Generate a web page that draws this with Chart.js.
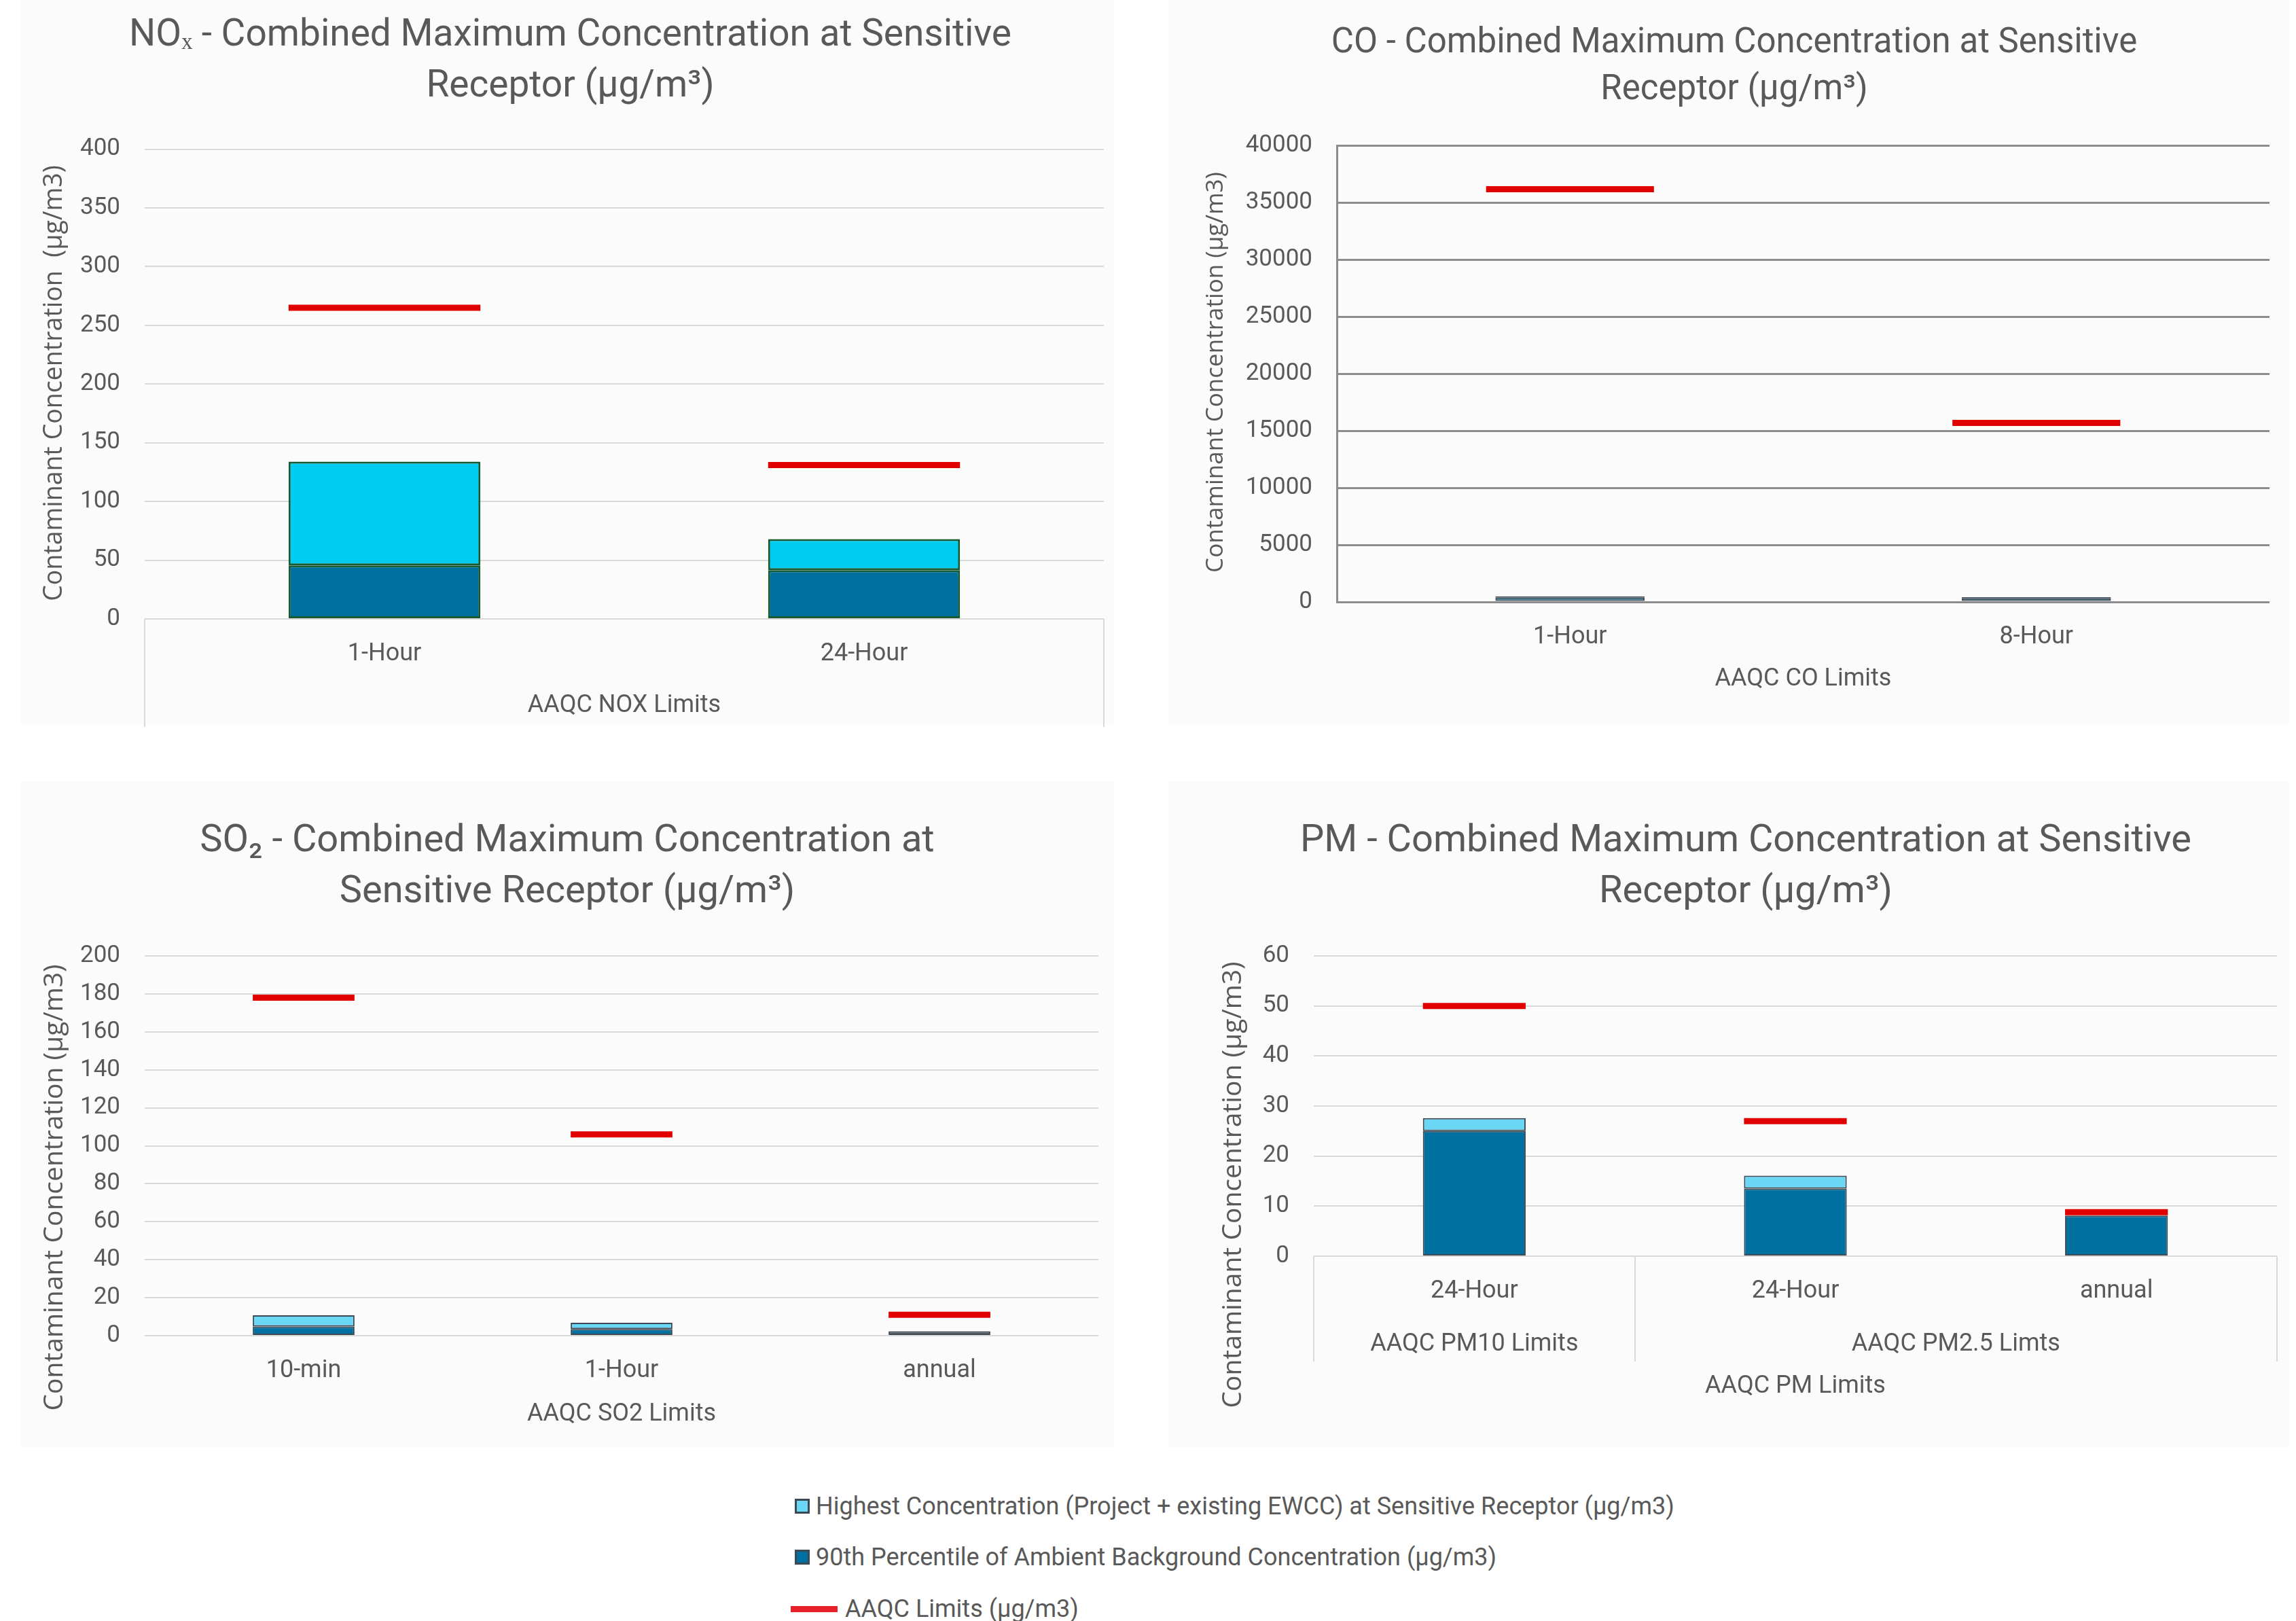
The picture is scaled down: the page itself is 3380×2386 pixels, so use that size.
<!DOCTYPE html>
<html>
<head>
<meta charset="utf-8">
<script src="https://cdn.jsdelivr.net/npm/chart.js@4.4.1/dist/chart.umd.min.js"></script>
<style>
  html, body { margin: 0; padding: 0; background: #ffffff; }
  body { width: 3380px; height: 2386px; position: relative; overflow: hidden; font-family: Roboto, sans-serif; }
  .panel { position: absolute; background: #fbfbfb; }
  canvas { position: absolute; }
  .leg { position: absolute; height: 40px; line-height: 40px; font-size: 36px; color: #595959; white-space: nowrap; }
  .sw { position: absolute; width: 16px; height: 16px; border: 3px solid #3d4a55; }
  .ln { position: absolute; width: 69px; height: 9px; background: #e8202a; }
</style>
</head>
<body>
<div class="panel" style="left:30px;top:0;width:1610px;height:1065px"></div>
<div class="panel" style="left:1720px;top:0;width:1650px;height:1065px"></div>
<div class="panel" style="left:30px;top:1150px;width:1610px;height:980px"></div>
<div class="panel" style="left:1720px;top:1150px;width:1650px;height:980px"></div>
<canvas id="noxChart" width="1660" height="1070" style="left:0;top:0"></canvas>
<canvas id="coChart" width="1690" height="1070" style="left:1690px;top:0"></canvas>
<canvas id="so2Chart" width="1660" height="980" style="left:0;top:1150px"></canvas>
<canvas id="pmChart" width="1690" height="980" style="left:1690px;top:1150px"></canvas>
<div id="legend"></div>
<script>
// series names (shared legend)
const seriesNames = [
  'Highest Concentration (Project + existing EWCC) at Sensitive Receptor (µg/m3)',
  '90th Percentile of Ambient Background Concentration (µg/m3)',
  'AAQC Limits (µg/m3)'
];

// NOx
const noxLabels = ['1-Hour', '24-Hour'];
const noxBackground = [45.5, 41.5];
const noxProject = [88.5, 26.5];
const noxLimits = [265, 131];
const noxGroups = ['AAQC NOX Limits'];
const noxGroupSpans = [[0, 1]];

// CO
const coLabels = ['1-Hour', '8-Hour'];
const coBackground = [400, 340];
const coProject = [90, 70];
const coLimits = [36200, 15700];

// SO2
const so2Labels = ['10-min', '1-Hour', 'annual'];
const so2Background = [4.8, 3.5, 2.3];
const so2Project = [5.9, 3.3, 0];
const so2Limits = [178, 106, 11];

// PM
const pmLabels = ['24-Hour', '24-Hour', 'annual'];
const pmBackground = [25, 13.5, 8.1];
const pmProject = [2.6, 2.6, 0];
const pmLimits = [50, 27, 8.8];
const pmGroups = ['AAQC PM10 Limits', 'AAQC PM2.5 Limts'];
const pmGroupSpans = [[0, 0], [1, 2]];

const TXT = '#595959';
const RED = '#e00000';
const DARK = '#0070a0';
const YTITLE = 'Contaminant Concentration (µg/m3)';

// second-level category labels + box lines under the x axis, and the y title
const extras = {
  id: 'extras',
  afterDraw(chart, args, opts) {
    const { ctx, chartArea } = chart;
    const x = chart.scales.x;
    const y = chart.scales.y;
    ctx.save();
    ctx.fillStyle = TXT;
    ctx.textAlign = 'center';
    ctx.textBaseline = 'middle';
    if (opts.labels) {
      const cat = x.width / chart.data.labels.length;
      ctx.strokeStyle = '#d9d9d9';
      ctx.lineWidth = 2;
      const edges = new Set();
      opts.spans.forEach(s => { edges.add(s[0]); edges.add(s[1] + 1); });
      edges.forEach(i => {
        const px = Math.round(x.left + i * cat);
        ctx.beginPath();
        ctx.moveTo(px, chartArea.bottom);
        ctx.lineTo(px, chartArea.bottom + opts.depth);
        ctx.stroke();
      });
      ctx.font = '36px Roboto';
      opts.labels.forEach((lab, k) => {
        const s = opts.spans[k];
        const cx = x.left + (s[0] + s[1] + 1) / 2 * cat;
        ctx.fillText(lab, cx, chartArea.bottom + opts.offset);
      });
    }
    // rotated y title, centred where the reference puts it
    ctx.font = opts.yTitleSize + 'px "Open Sans"';
    ctx.translate(y.left + 4 + opts.yTitleSize * 0.6, opts.yTitleY);
    ctx.rotate(-Math.PI / 2);
    ctx.fillText(opts.yTitle, 0, 0);
    ctx.restore();
  }
};

function makeChart(id, s) {
  const halfLine = c => {
    const xs = c.chart.scales.x;
    return xs ? xs.width / s.labels.length * s.limitFrac / 2 : 0;
  };
  const bar = (label, data, color) => ({
    label, data, backgroundColor: color, borderColor: s.border, borderWidth: s.borderWidth,
    borderSkipped: false, stack: 'conc', order: 2,
    barPercentage: s.barFrac, categoryPercentage: 1
  });
  return new Chart(document.getElementById(id), {
    type: 'bar',
    data: {
      labels: s.labels,
      datasets: [
        bar(seriesNames[1], s.background, s.darkColor || DARK),
        bar(seriesNames[0], s.project, s.lightColor),
        {
          type: 'line', label: seriesNames[2], data: s.limits, stack: 'limit', order: 0,
          showLine: false, pointStyle: 'line', pointBorderColor: RED, pointBackgroundColor: RED,
          pointBorderWidth: 9, pointRadius: halfLine, pointHoverRadius: halfLine, pointHoverBorderWidth: 9
        }
      ]
    },
    options: {
      responsive: false,
      animation: false,
      events: [],
      devicePixelRatio: 1,
      layout: { padding: { left: s.pad[0], right: s.pad[1], top: 0, bottom: s.pad[2] } },
      plugins: {
        legend: { display: false },
        tooltip: { enabled: false },
        title: {
          display: true, text: s.title, color: TXT,
          font: { family: 'Roboto', size: s.titleSize, weight: 'normal', lineHeight: s.titleLH },
          padding: { top: s.titleTop, bottom: s.titleBottom }
        },
        extras: {
          labels: s.groups, spans: s.spans, depth: s.depth, offset: s.groupOffset,
          yTitle: s.yTitle || YTITLE, yTitleSize: s.yTitleSize, yTitleY: s.yTitleY
        }
      },
      scales: {
        x: {
          stacked: true,
          grid: { display: false, drawTicks: false },
          border: { display: false },
          ticks: { padding: 30, color: TXT, font: { family: 'Roboto', size: 36 } },
          title: {
            display: !!s.xTitle, text: s.xTitle, color: TXT,
            font: { family: 'Roboto', size: 36, lineHeight: 1.2 }, padding: { top: 4, bottom: 4 }
          },
          afterFit: sc => { sc.height = s.xHeight; }
        },
        y: {
          stacked: true, min: 0, max: s.max,
          ticks: {
            stepSize: s.step, padding: 36, color: TXT,
            font: { family: 'Roboto', size: 35 }, callback: v => String(v)
          },
          grid: { color: s.gridColor, lineWidth: s.gridWidth, drawTicks: false },
          border: { display: !!s.axisLine, color: s.gridColor, width: s.gridWidth },
          title: { display: false },
          afterFit: sc => { sc.width = s.yWidth; }
        }
      }
    },
    plugins: [extras]
  });
}

makeChart('noxChart', {
  labels: noxLabels, background: noxBackground, project: noxProject, limits: noxLimits,
  groups: noxGroups, spans: noxGroupSpans, depth: 160, groupOffset: 128,
  title: ['NOₓ - Combined Maximum Concentration at Sensitive', 'Receptor (µg/m³)'],
  titleSize: 55, titleLH: 1.36, titleTop: 16, titleBottom: 54,
  yTitle: 'Contaminant Concentration  (µg/m3)', yTitleSize: 37.5, yTitleY: 564,
  lightColor: '#00ccf0', border: '#145a32', borderWidth: 3,
  barFrac: 0.40, limitFrac: 0.40,
  max: 400, step: 50, gridColor: '#d9d9d9', gridWidth: 2,
  pad: [54, 35, 9], yWidth: 159, xHeight: 150
});

makeChart('coChart', {
  labels: coLabels, background: coBackground, project: coProject, limits: coLimits,
  xTitle: 'AAQC CO Limits',
  title: ['CO - Combined Maximum Concentration at Sensitive', 'Receptor (µg/m³)'],
  titleSize: 51, titleLH: 1.35, titleTop: 30, titleBottom: 47,
  yTitleSize: 35, yTitleY: 548,
  lightColor: '#5fcde8', darkColor: '#1f6f8b', border: '#3d4a57', borderWidth: 2,
  barFrac: 0.32, limitFrac: 0.36,
  max: 40000, step: 5000, gridColor: '#8c8c8c', gridWidth: 3, axisLine: true,
  pad: [75, 39, 44], yWidth: 203, xHeight: 140
});

makeChart('so2Chart', {
  labels: so2Labels, background: so2Background, project: so2Project, limits: so2Limits,
  xTitle: 'AAQC SO2 Limits',
  title: ['SO₂ - Combined Maximum Concentration at', 'Sensitive Receptor (µg/m³)'],
  titleSize: 56, titleLH: 1.34, titleTop: 51, titleBottom: 56,
  yTitleSize: 39, yTitleY: 598,
  lightColor: '#6ad8f5', darkColor: [DARK, DARK, '#5f5f5f'], border: '#3d4a55', borderWidth: 2,
  barFrac: 0.32, limitFrac: 0.32,
  max: 200, step: 20, gridColor: '#d9d9d9', gridWidth: 2,
  pad: [53, 43, 22], yWidth: 160, xHeight: 142
});

makeChart('pmChart', {
  labels: pmLabels, background: pmBackground, project: pmProject, limits: pmLimits,
  groups: pmGroups, spans: pmGroupSpans, depth: 155, groupOffset: 130,
  xTitle: 'AAQC PM Limits',
  title: ['PM - Combined Maximum Concentration at Sensitive', 'Receptor (µg/m³)'],
  titleSize: 56, titleLH: 1.34, titleTop: 51, titleBottom: 56,
  yTitleSize: 39, yTitleY: 594,
  lightColor: '#6ad8f5', border: '#3d4a55', borderWidth: 2,
  barFrac: 0.32, limitFrac: 0.32,
  max: 60, step: 10, gridColor: '#d9d9d9', gridWidth: 2,
  pad: [98, 28, 63], yWidth: 146, xHeight: 218
});

// shared legend below the four panels
const legend = document.getElementById('legend');
const legendRows = [
  { top: 2197, marker: 'sw', fill: '#6ad8f5', textLeft: 1201 },
  { top: 2272, marker: 'sw', fill: DARK, textLeft: 1201 },
  { top: 2348, marker: 'ln', textLeft: 1244 }
];
legendRows.forEach((r, i) => {
  const mk = document.createElement('div');
  mk.className = r.marker;
  mk.style.left = (r.marker === 'sw' ? 1170 : 1164) + 'px';
  mk.style.top = (r.top + (r.marker === 'sw' ? 9 : 16)) + 'px';
  if (r.fill) mk.style.background = r.fill;
  legend.appendChild(mk);
  const tx = document.createElement('div');
  tx.className = 'leg';
  tx.style.left = r.textLeft + 'px';
  tx.style.top = r.top + 'px';
  tx.textContent = seriesNames[i];
  legend.appendChild(tx);
});
</script>
</body>
</html>
